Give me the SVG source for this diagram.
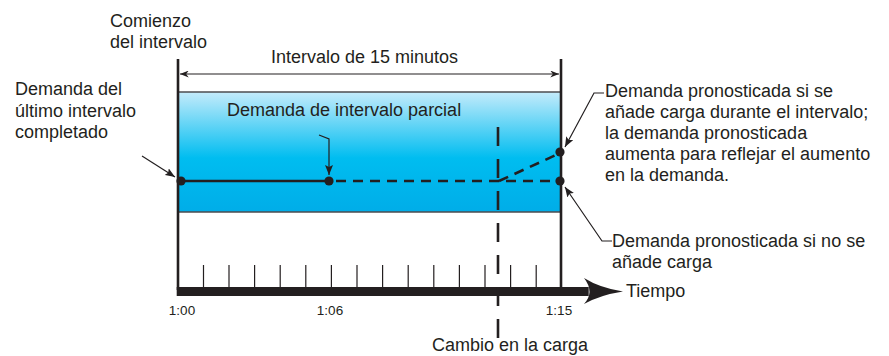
<svg xmlns="http://www.w3.org/2000/svg" width="889" height="356" viewBox="0 0 889 356">
<defs>
<linearGradient id="blue" x1="0" y1="0" x2="0" y2="1">
<stop offset="0" stop-color="#c4ebfb"/>
<stop offset="0.55" stop-color="#00bdf0"/>
<stop offset="1" stop-color="#00ade8"/>
</linearGradient>
<marker id="ah" viewBox="0 0 10 8" refX="10" refY="4" markerWidth="10" markerHeight="8" markerUnits="userSpaceOnUse" orient="auto">
<path d="M0,0 L10,4 L0,8 L2,4 Z" fill="#231f20"/>
</marker>
<marker id="ahs" viewBox="0 0 10 8" refX="10" refY="4" markerWidth="9" markerHeight="7" markerUnits="userSpaceOnUse" orient="auto-start-reverse">
<path d="M0,0 L10,4 L0,8 L3,4 Z" fill="#231f20"/>
</marker>
</defs>
<style>
text{font-family:"Liberation Sans",Arial,sans-serif;font-size:18px;fill:#231f20}
.small{font-size:13.5px}
.thin{stroke:#231f20;stroke-width:1.2;fill:none}
.bold{stroke:#231f20;stroke-width:2.6;fill:none}
.dash{stroke:#231f20;stroke-width:2.6;fill:none;stroke-dasharray:10 7}
.dot{fill:#231f20}
</style>
<g id="band">
<rect x="178" y="92" width="383" height="120" fill="url(#blue)"/>
<line x1="178" y1="92" x2="561" y2="92" stroke="#4d4d4f" stroke-width="1.3"/>
<line x1="178" y1="212" x2="561" y2="212" stroke="#4d4d4f" stroke-width="1.3"/>
</g>
<g id="axes">
<line class="bold" x1="178" y1="59" x2="178" y2="290"/>
<line class="bold" x1="561" y1="59" x2="561" y2="290"/>
<rect x="176.7" y="287" width="412" height="9" fill="#231f20"/>
<path d="M584,278 Q600,288 623,291.5 Q600,295 584,304 Q595,292 584,278 Z" fill="#231f20"/>
<g class="thin" stroke-width="1.3">
<path d="M203.5,265V287M229,265V287M254.6,265V287M280.2,265V287M305.8,265V287M331.4,265V287M357,265V287M382.6,265V287M408.2,265V287M433.8,265V287M459.4,265V287M485,265V287M510.6,265V287M536.2,265V287"/>
</g>
</g>
<g id="connectors">
<line class="thin" x1="180" y1="74" x2="559" y2="74" marker-start="url(#ahs)" marker-end="url(#ahs)"/>
<line class="bold" x1="181" y1="181" x2="329" y2="181"/>
<line class="dash" x1="336" y1="181" x2="558" y2="181"/>
<line class="dash" x1="499" y1="181" x2="556" y2="155"/>
<line x1="498" y1="127" x2="498" y2="345" stroke="#231f20" stroke-width="2.6" stroke-dasharray="19 13"/>
<line class="thin" x1="142" y1="156" x2="175" y2="177" marker-end="url(#ah)"/>
<polyline class="thin" points="319,135 329,139 329,175" marker-end="url(#ah)"/>
<polyline class="thin" points="604,93 594,93 565,147" marker-end="url(#ah)"/>
<polyline class="thin" points="612,241 602,241 565,187" marker-end="url(#ah)"/>
</g>
<g id="dots">
<circle class="dot" cx="181" cy="181" r="4.6"/>
<circle class="dot" cx="329" cy="181" r="4.6"/>
<circle class="dot" cx="560" cy="181" r="4.6"/>
<circle class="dot" cx="560" cy="152" r="4.6"/>
</g>
<g id="labels">
<text x="110" y="27">Comienzo</text>
<text x="110" y="48">del intervalo</text>
<text x="271" y="63">Intervalo de 15 minutos</text>
<text x="15" y="95">Demanda del</text>
<text x="15" y="117">último intervalo</text>
<text x="15" y="138">completado</text>
<text x="227" y="116">Demanda de intervalo parcial</text>
<text x="605" y="97">Demanda pronosticada si se</text>
<text x="605" y="118">añade carga durante el intervalo;</text>
<text x="605" y="139">la demanda pronosticada</text>
<text x="605" y="160">aumenta para reflejar el aumento</text>
<text x="605" y="181">en la demanda.</text>
<text x="612" y="247">Demanda pronosticada si no se</text>
<text x="612" y="268">añade carga</text>
<text x="626" y="297">Tiempo</text>
<text class="small" x="182" y="315" text-anchor="middle">1:00</text>
<text class="small" x="330" y="315" text-anchor="middle">1:06</text>
<text class="small" x="559" y="315" text-anchor="middle">1:15</text>
<text x="510" y="351" text-anchor="middle">Cambio en la carga</text>
</g>
</svg>
